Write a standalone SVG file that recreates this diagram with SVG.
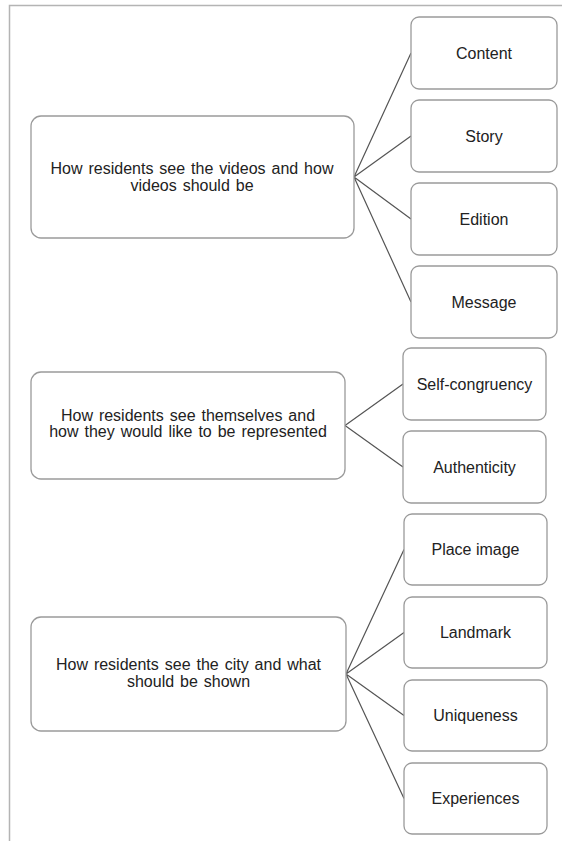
<svg xmlns="http://www.w3.org/2000/svg" width="562" height="841" viewBox="0 0 562 841">
<style>
.frame{fill:none;stroke:#b4b4b4;stroke-width:1.5}
.box{fill:#fff;stroke:#9a9a9a;stroke-width:1.3}
.conn{fill:none;stroke:#555;stroke-width:1.2}
text{font-family:"Liberation Sans",Arial,sans-serif;font-size:16px;fill:#222;text-anchor:middle}
.main{word-spacing:1.5px}
</style>
<rect width="562" height="841" fill="#fff"/>
<path class="frame" d="M9.5,841 V5.5 H562"/>
<g id="connectors">
<path class="conn" d="M354,177 L411,53 M354,177 L411,136 M354,177 L411,219 M354,177 L411,302"/>
<path class="conn" d="M345,425.5 L403,384 M345,425.5 L403,467"/>
<path class="conn" d="M346,674 L404,549.5 M346,674 L404,632.5 M346,674 L404,715.5 M346,674 L404,798.5"/>
</g>
<g id="main1"><rect class="box" x="31" y="116" width="323" height="122" rx="10"/>
<text class="main" x="192" y="174">How residents see the videos and how</text>
<text class="main" x="192" y="191">videos should be</text></g>
<g id="content"><rect class="box" x="411" y="17" width="146" height="72" rx="8"/><text x="484" y="59">Content</text></g>
<g id="story"><rect class="box" x="411" y="100" width="146" height="72" rx="8"/><text x="484" y="142">Story</text></g>
<g id="edition"><rect class="box" x="411" y="183" width="146" height="72" rx="8"/><text x="484" y="225">Edition</text></g>
<g id="message"><rect class="box" x="411" y="266" width="146" height="72" rx="8"/><text x="484" y="308">Message</text></g>
<g id="main2"><rect class="box" x="31" y="372" width="314" height="107" rx="10"/>
<text class="main" x="188" y="421">How residents see themselves and</text>
<text class="main" x="188" y="437">how they would like to be represented</text></g>
<g id="selfcongruency"><rect class="box" x="403" y="348" width="143" height="72" rx="8"/><text x="474.5" y="390">Self-congruency</text></g>
<g id="authenticity"><rect class="box" x="403" y="431" width="143" height="72" rx="8"/><text x="474.5" y="473">Authenticity</text></g>
<g id="main3"><rect class="box" x="31" y="617" width="315" height="114" rx="10"/>
<text class="main" x="188.5" y="670">How residents see the city and what</text>
<text class="main" x="188.5" y="687">should be shown</text></g>
<g id="placeimage"><rect class="box" x="404" y="514" width="143" height="71" rx="8"/><text x="475.5" y="555">Place image</text></g>
<g id="landmark"><rect class="box" x="404" y="597" width="143" height="71" rx="8"/><text x="475.5" y="638">Landmark</text></g>
<g id="uniqueness"><rect class="box" x="404" y="680" width="143" height="71" rx="8"/><text x="475.5" y="721">Uniqueness</text></g>
<g id="experiences"><rect class="box" x="404" y="763" width="143" height="71" rx="8"/><text x="475.5" y="804">Experiences</text></g>
</svg>
